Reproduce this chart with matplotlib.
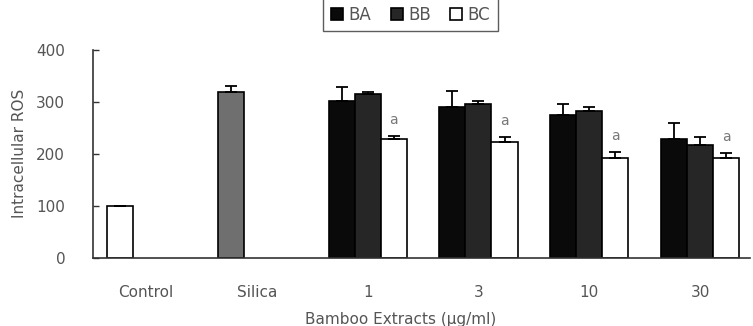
import numpy as np
from matplotlib import pyplot as plt
from matplotlib.lines import Line2D

plt.rcParams['font.family'] = ['DejaVu Sans']

categories = ['Control', 'Silica', '1', '3', '10', '30']
control_val = 100
control_err = 0
silica_val = 319
silica_err = 12
BA = [302, 290, 274, 228]
BA_err = [26, 31, 22, 31]
BB = [316, 297, 283, 217]
BB_err = [3, 5, 8, 15]
BC = [228, 222, 193, 192]
BC_err = [6, 11, 10, 9]
sig = ['a', 'a', 'a', 'a']

txt = '#555555'
line = '#333333'
w = 0.235

fig = plt.figure(figsize=(7.53, 3.26), dpi=100)
ax = fig.add_axes([0.1235, 0.2095, 0.8725, 0.637])

x = np.arange(len(categories))
xe = x[2:]
kw = dict(width=w, edgecolor='black', linewidth=1.2, error_kw=dict(elinewidth=1.3, capthick=1.3, ecolor='black'), capsize=4)

ax.bar(x[0] - w, control_val, yerr=[[0], [control_err]], color='white', **kw)
ax.bar(x[1] - w, silica_val, yerr=[[0], [silica_err]], color='#6f6f6f', **kw)
ax.bar(xe - w, BA, yerr=[np.zeros(4), BA_err], color='#0a0a0a', **kw)
ax.bar(xe, BB, yerr=[np.zeros(4), BB_err], color='#262626', **kw)
ax.bar(xe + w, BC, yerr=[np.zeros(4), BC_err], color='white', **kw)

for xi, v, e, s in zip(xe, BC, BC_err, sig):
    ax.text(xi + w, v + e + 31, s, ha='center', va='center', color='#777777', fontsize=10)

ax.set_xlim(-0.478, 5.45)
ax.set_ylim(0, 400)
ax.set_yticks([0, 100, 200, 300, 400])
ax.set_xticks(x)
ax.set_xticklabels(categories)
ax.tick_params(axis='x', length=0, pad=20, labelsize=11, labelcolor=txt)
ax.tick_params(axis='y', direction='in', length=4, width=1, color=line, labelsize=11, labelcolor=txt, pad=20)
for s in ['top', 'right']:
    ax.spines[s].set_visible(False)
for s in ['left', 'bottom']:
    ax.spines[s].set_color(line)
    ax.spines[s].set_linewidth(1.2)

ax.set_ylabel('Intracellular ROS', color=txt, fontsize=11)
ax.yaxis.set_label_coords(-0.1, 0.5)
fig.text(0.532, 0.02, 'Bamboo Extracts (μg/ml)', ha='center', va='center', color=txt, fontsize=11)

handles = [Line2D([], [], marker='s', linestyle='none', markersize=8, markerfacecolor=c,
                  markeredgecolor='black', markeredgewidth=1.2) for c in ['#0a0a0a', '#262626', 'white']]
leg = fig.legend(handles, ['BA', 'BB', 'BC'], loc='center', bbox_to_anchor=(0.545, 0.955), ncol=3,
                 frameon=True, fancybox=False, edgecolor=line, handlelength=0.8, handletextpad=0.3,
                 columnspacing=1.1, borderpad=0.45, fontsize=12)
for t in leg.get_texts():
    t.set_color(txt)

fig.savefig('out.png', dpi=100)
